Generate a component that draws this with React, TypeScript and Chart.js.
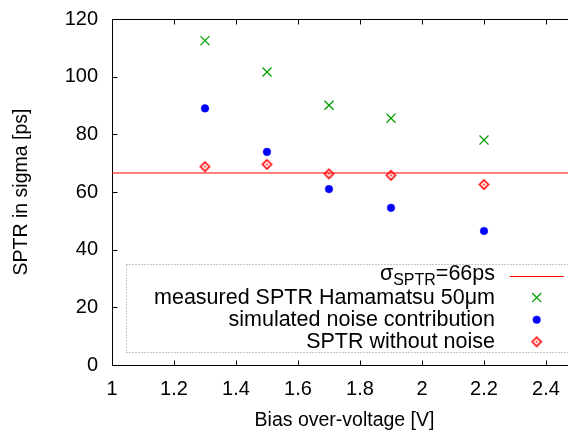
import React, { useEffect, useRef } from 'react';
import { Chart, registerables } from 'chart.js';
import { drawPoint } from 'chart.js/helpers';

Chart.register(...registerables);

// ---- data ----
const VOLTAGES = [1.3, 1.5, 1.7, 1.9, 2.2];
const MEASURED = [112.5, 101.6, 90.1, 85.6, 78.0];
const SIMULATED = [89.0, 73.9, 61.0, 54.5, 46.5];
const WITHOUT_NOISE = [68.8, 69.6, 66.3, 65.8, 62.6];
const SIGMA_SPTR = 66.6;
const X_RANGE = [1, 2.5];
const Y_RANGE = [0, 120];
const X_TICKS = [1, 1.2, 1.4, 1.6, 1.8, 2, 2.2, 2.4];
const Y_TICKS = [0, 20, 40, 60, 80, 100, 120];
const SIGMA_LABEL_PARTS = ['σ', 'SPTR', '=66ps'];
const LABELS = [
  SIGMA_LABEL_PARTS.join(''),
  'measured SPTR Hamamatsu 50μm',
  'simulated noise contribution',
  'SPTR without noise',
];
const X_TITLE = 'Bias over-voltage [V]';
const Y_TITLE = 'SPTR in sigma [ps]';

const FONT = '"Liberation Sans", Arial, sans-serif';
const RED = '#ff0000';
const GREEN = '#00a000';
const BLUE = '#0000ff';

function makeDiamond(color: string) {
  const c = document.createElement('canvas');
  c.width = 13;
  c.height = 13;
  const g = c.getContext('2d')!;
  g.strokeStyle = color;
  g.lineWidth = 1.6;
  g.beginPath();
  g.moveTo(6.5, 2);
  g.lineTo(11, 6.5);
  g.lineTo(6.5, 11);
  g.lineTo(2, 6.5);
  g.closePath();
  g.stroke();
  g.fillStyle = color;
  g.beginPath();
  g.arc(6.5, 6.5, 1, 0, Math.PI * 2);
  g.fill();
  return c;
}

const framePlugin = {
  id: 'gnuFrame',
  beforeDatasetsDraw(chart: any) {
    const { ctx, chartArea: a, scales } = chart;
    const x = scales.x;
    const y = scales.y;
    ctx.save();
    ctx.strokeStyle = '#000';
    ctx.lineWidth = 1;
    ctx.setLineDash([]);
    const l = Math.round(a.left) + 0.5;
    const t = Math.round(a.top) + 0.5;
    const r = Math.round(a.right) + 0.5;
    const b = Math.round(a.bottom) + 0.5;
    ctx.strokeRect(l, t, r - l, b - t);
    const tl = 5;
    ctx.beginPath();
    for (const v of X_TICKS) {
      const px = Math.round(x.getPixelForValue(v)) + 0.5;
      ctx.moveTo(px, b);
      ctx.lineTo(px, b - tl);
      ctx.moveTo(px, t);
      ctx.lineTo(px, t + tl);
    }
    for (const v of Y_TICKS) {
      const py = Math.round(y.getPixelForValue(v)) + 0.5;
      ctx.moveTo(l, py);
      ctx.lineTo(l + tl, py);
      ctx.moveTo(r, py);
      ctx.lineTo(r - tl, py);
    }
    ctx.stroke();
    ctx.restore();
  },
};

const keyPlugin = {
  id: 'gnuKey',
  afterDraw(chart: any) {
    const { ctx, chartArea: a } = chart;
    const ds = chart.data.datasets;
    ctx.save();
    // dotted key box
    ctx.strokeStyle = '#8c8c8c';
    ctx.lineWidth = 1;
    ctx.setLineDash([1, 2]);
    const bl = Math.round(a.left) + 14.5;
    const bt = Math.round(a.top) + 245.5;
    const bb = Math.round(a.bottom) - 12.5;
    const br = Math.round(a.right) - 3.5;
    ctx.strokeRect(bl, bt, br - bl, bb - bt);
    ctx.setLineDash([]);

    const textRight = a.left + 383;
    const sampleX = a.left + 424.7;
    const rowY = (i: number) => a.top + 256.5 + i * 22.1;
    const mainFont = `21.5px ${FONT}`;
    const subFont = `16px ${FONT}`;
    ctx.fillStyle = '#000';
    ctx.textBaseline = 'middle';

    // row 0: sigma line with subscript
    {
      const y0 = rowY(0) - 1;
      ctx.font = mainFont;
      const w0 = ctx.measureText(SIGMA_LABEL_PARTS[0]).width;
      const w2 = ctx.measureText(SIGMA_LABEL_PARTS[2]).width;
      ctx.font = subFont;
      const w1 = ctx.measureText(SIGMA_LABEL_PARTS[1]).width;
      let xx = textRight - (w0 + w1 + w2);
      ctx.textAlign = 'left';
      ctx.font = mainFont;
      ctx.fillText(SIGMA_LABEL_PARTS[0], xx, y0);
      xx += w0;
      ctx.font = subFont;
      ctx.fillText(SIGMA_LABEL_PARTS[1], xx, y0 + 6.5);
      xx += w1;
      ctx.font = mainFont;
      ctx.fillText(SIGMA_LABEL_PARTS[2], xx, y0);
      ctx.strokeStyle = ds[0].borderColor;
      ctx.lineWidth = ds[0].borderWidth;
      ctx.beginPath();
      ctx.moveTo(sampleX - 27, Math.round(rowY(0)) + 0.5);
      ctx.lineTo(sampleX + 27, Math.round(rowY(0)) + 0.5);
      ctx.stroke();
    }
    ctx.textAlign = 'right';
    ctx.font = mainFont;
    for (let i = 1; i < ds.length; i++) {
      const y0 = rowY(i);
      ctx.fillStyle = '#000';
      ctx.fillText(ds[i].label, textRight, y0);
      ctx.strokeStyle = ds[i].borderColor;
      ctx.fillStyle = ds[i].backgroundColor;
      ctx.lineWidth = ds[i].borderWidth;
      drawPoint(
        ctx,
        {
          pointStyle: ds[i].pointStyle,
          radius: ds[i].pointRadius,
          rotation: 0,
          borderWidth: ds[i].borderWidth,
        } as any,
        sampleX,
        y0
      );
    }
    ctx.restore();
  },
};

export default function App() {
  const ref = useRef<HTMLCanvasElement | null>(null);

  useEffect(() => {
    if (!ref.current) return;
    const diamond = makeDiamond(RED);
    const pts = (vals: number[]) => VOLTAGES.map((v, i) => ({ x: v, y: vals[i] }));
    const chart = new Chart(ref.current, {
      type: 'scatter',
      data: {
        datasets: [
          {
            label: LABELS[0],
            data: [
              { x: X_RANGE[0], y: SIGMA_SPTR },
              { x: X_RANGE[1], y: SIGMA_SPTR },
            ],
            showLine: true,
            borderColor: RED,
            backgroundColor: RED,
            borderWidth: 1,
            pointRadius: 0,
          },
          {
            label: LABELS[1],
            data: pts(MEASURED),
            pointStyle: 'crossRot',
            pointRadius: 6.4,
            borderColor: GREEN,
            backgroundColor: GREEN,
            borderWidth: 1.3,
          },
          {
            label: LABELS[2],
            data: pts(SIMULATED),
            pointStyle: 'circle',
            pointRadius: 3.8,
            borderColor: BLUE,
            backgroundColor: BLUE,
            borderWidth: 0.5,
          },
          {
            label: LABELS[3],
            data: pts(WITHOUT_NOISE),
            pointStyle: diamond as any,
            pointRadius: 4.5,
            borderColor: RED,
            backgroundColor: 'rgba(0,0,0,0)',
            borderWidth: 1.3,
          },
        ],
      },
      options: {
        responsive: false,
        animation: false,
        events: [],
        layout: { padding: { left: 0, top: 19, right: 23, bottom: 0 } },
        plugins: { legend: { display: false }, tooltip: { enabled: false } },
        scales: {
          x: {
            type: 'linear',
            min: X_RANGE[0],
            max: X_RANGE[1],
            grid: { display: false, drawTicks: false },
            border: { display: false },
            afterBuildTicks: (ax: any) => {
              ax.ticks = X_TICKS.map((v) => ({ value: v }));
            },
            afterFit: (ax: any) => {
              ax.height = 67;
              ax.paddingLeft = 0;
              ax.paddingRight = 0;
              ax.paddingTop = 0;
              ax.paddingBottom = 0;
            },
            ticks: {
              padding: 12,
              color: '#000',
              maxRotation: 0,
              autoSkip: false,
              font: { family: FONT, size: 20 },
              callback: (v: any) => String(Math.round(Number(v) * 10) / 10),
            },
            title: {
              display: true,
              text: X_TITLE,
              color: '#000',
              font: { family: FONT, size: 19.5 },
              padding: { top: 0, bottom: 0 },
            },
          },
          y: {
            type: 'linear',
            min: Y_RANGE[0],
            max: Y_RANGE[1],
            grid: { display: false, drawTicks: false },
            border: { display: false },
            afterBuildTicks: (ax: any) => {
              ax.ticks = Y_TICKS.map((v) => ({ value: v }));
            },
            afterFit: (ax: any) => {
              ax.width = 112;
              ax.paddingLeft = 0;
              ax.paddingRight = 0;
              ax.paddingTop = 0;
              ax.paddingBottom = 0;
            },
            ticks: {
              padding: 14,
              color: '#000',
              autoSkip: false,
              font: { family: FONT, size: 20 },
              callback: (v: any) => String(v),
            },
            title: {
              display: true,
              text: Y_TITLE,
              color: '#000',
              font: { family: FONT, size: 19.5 },
              padding: { top: 10, bottom: 0 },
            },
          },
        },
      },
      plugins: [framePlugin, keyPlugin],
    });
    return () => chart.destroy();
  }, []);

  return (
    <div
      style={{
        position: 'fixed',
        left: 0,
        top: 0,
        width: 568,
        height: 432,
        overflow: 'hidden',
        background: '#fff',
      }}
    >
      <canvas ref={ref} width={600} height={432} style={{ display: 'block' }} />
    </div>
  );
}
